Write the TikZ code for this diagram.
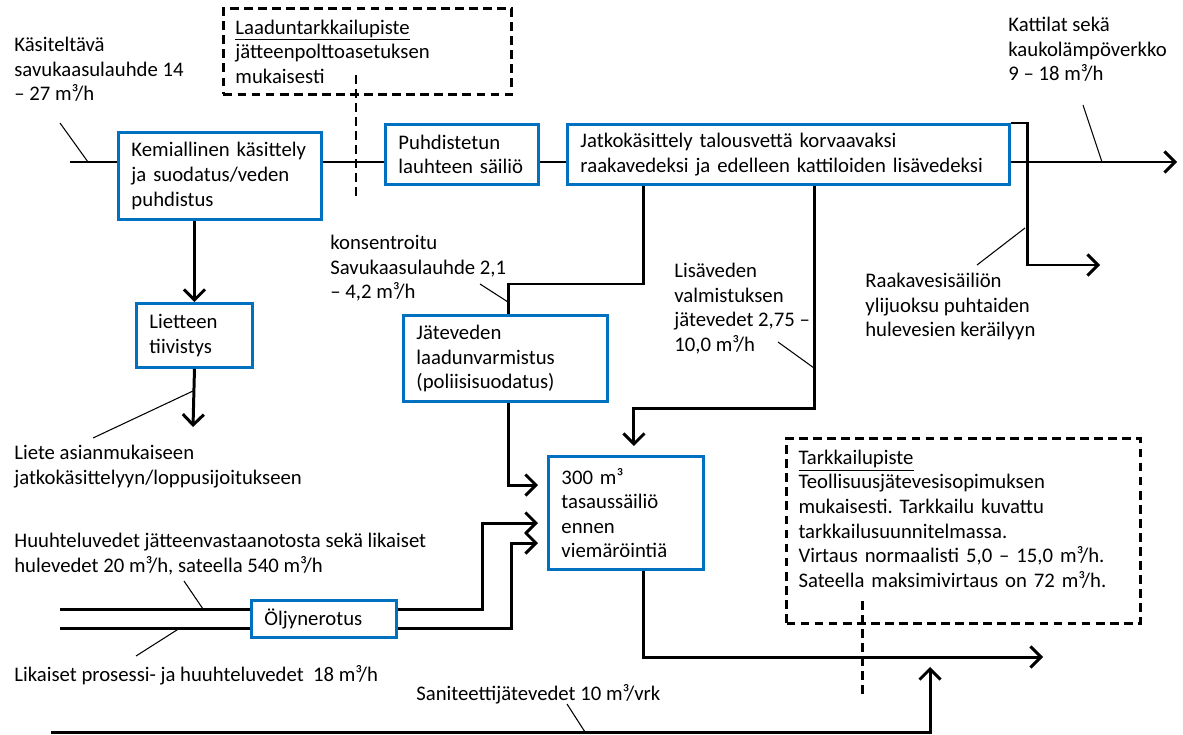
\documentclass[tikz,border=0pt]{standalone}
\usepackage{fontspec}
\setmainfont{Carlito}
\usetikzlibrary{calc,arrows.meta}
\definecolor{boxline}{RGB}{0,112,192}
\definecolor{pipe}{RGB}{0,0,0}
\frenchspacing
\tikzset{
  wbox/.style={draw=boxline,line width=1.7pt,anchor=north west,align=left,inner xsep=0.26cm,inner ysep=0pt},
  wpoint/.style={draw=pipe,line width=1.7pt,dash pattern=on 5pt off 3pt,anchor=north west,align=left,inner xsep=0.24cm,inner ysep=0pt},
  wflow/.style={pipe,line width=1.7pt},
  warrow/.style={wflow,-{Straight Barb[length=6pt,width=12pt]}},
  wlead/.style={pipe,line width=0.6pt},
  wmark/.style={pipe,line width=1.7pt,dash pattern=on 5pt off 3pt},
  wlabel/.style={anchor=north west,align=left,inner sep=0pt},
}
\newcommand{\cub}{³}

\begin{document}
\begin{tikzpicture}[x=0.02cm,y=-0.02cm,font=\fontsize{11.8}{14}\selectfont]
  \useasboundingbox (0,0) rectangle (1183,734);
  % process units
  \node[wbox,text width=3.54cm,minimum height=1.74cm] (kem) at (117,131) {Kemiallinen käsittely\\ja suodatus/veden\\puhdistus};
  \node[wbox,text width=1.8cm,minimum height=1.28cm] (liet) at (135,302) {Lietteen\\tiivistys};
  \node[wbox,text width=2.54cm,minimum height=1.2cm] (puhd) at (384,123) {Puhdistetun\\lauhteen~säiliö};
  \node[wbox,text width=8.32cm,minimum height=1.2cm] (jatko) at (566,123) {Jatkokäsittely talousvettä korvaavaksi\\raakavedeksi ja edelleen kattiloiden lisävedeksi};
  \node[wbox,text width=3.56cm,minimum height=1.72cm] (jate) at (402,314) {Jäteveden\\laadunvarmistus\\(poliisisuodatus)};
  \node[wbox,text width=2.58cm,minimum height=2.26cm] (tasaus) at (547,455) {300~m\cub\\tasaussäiliö\\ennen\\viemäröintiä};
  \node[wbox,text width=2.38cm,minimum height=0.74cm] (oljy) at (250,599) {Öljynerotus};
  % monitoring points
  \node[wpoint,text width=5.28cm,minimum height=1.72cm] (laatu) at (222,7) {\underline{Laaduntarkkailupiste}\\jätteenpolttoasetuksen\\mukaisesti};
  \node[wpoint,text width=6.6cm,minimum height=3.7cm] (tark) at (785,437) {\underline{Tarkkailupiste}\\Teollisuusjätevesisopimuksen\\mukaisesti. Tarkkailu kuvattu\\tarkkailusuunnitelmassa.\\Virtaus normaalisti 5,0 – 15,0 m\cub/h.\\Sateella maksimivirtaus on 72 m\cub/h.\\ \mbox{}};
  \draw[wmark] (356,75) -- (356,198);
  \draw[wmark] (862,601) -- (862,695);
  % flow labels
  \node[wlabel] (kasi) at (14,37) {Käsiteltävä\\savukaasulauhde 14\\– 27 m\cub/h};
  \node[wlabel] (kons) at (330,235) {konsentroitu\\Savukaasulauhde 2,1\\– 4,2 m\cub/h};
  \node[wlabel] (lisa) at (674,263) {Lisäveden\\valmistuksen\\jätevedet 2,75 –\\10,0 m\cub/h};
  \node[wlabel] (katt) at (1008,17) {Kattilat sekä\\kaukolämpöverkko\\9 – 18 m\cub/h};
  \node[wlabel] (raaka) at (865,273) {Raakavesisäiliön\\ylijuoksu puhtaiden\\hulevesien keräilyyn};
  \node[wlabel] (liete) at (14,445) {Liete asianmukaiseen\\jatkokäsittelyyn/loppusijoitukseen};
  \node[wlabel] (huuh) at (14,533) {Huuhteluvedet jätteenvastaanotosta sekä likaiset\\hulevedet 20 m\cub/h, sateella 540 m\cub/h};
  \node[wlabel] (likai) at (14,665) {Likaiset prosessi- ja huuhteluvedet~ 18 m\cub/h};
  \node[wlabel] (sani) at (416,684) {Saniteettijätevedet 10 m\cub/vrk};
  % free ends of the pipes
  \coordinate (in) at (70,162);
  \coordinate (out) at (1177,162);
  \coordinate (over) at (1100,265);
  \coordinate (sludge) at (193,427);
  \coordinate (konsb) at (643,284);
  \coordinate (konsa) at (508,284);
  \coordinate (lisab) at (814,408);
  \coordinate (dirtyA) at (60,609);
  \coordinate (dirtyB) at (60,628);
  \coordinate (sewer) at (1043,657);
  \coordinate (sanin) at (51,732);
  \coordinate (sanup) at (930,667);
  % pipes
  \draw[wflow] (in) -- (in -| kem.west);
  \draw[wflow] (in -| kem.east) -- (in -| puhd.west);
  \draw[wflow] (in -| puhd.east) -- (in -| jatko.west);
  \draw[warrow] (in -| jatko.east) -- (out);
  \draw[warrow] (jatko.north east) -- ++(17,0) |- (over);
  \draw[warrow] (kem.south -| liet.north) -- (liet.north);
  \draw[warrow] (liet.south) -- (sludge);
  \draw[wflow] (jatko.south -| konsb) -- (konsb) -- (konsa) -- (konsa |- jate.north);
  \draw[warrow] (konsa |- jate.south) |- ($(tasaus.north west)+(-9,30)$);
  \draw[warrow] (jatko.south -| lisab) -- (lisab) -| ($(tasaus.north)+(8,-9)$);
  \draw[wflow] (dirtyA) -- (dirtyA -| oljy.west);
  \draw[wflow] (dirtyB) -- (dirtyB -| oljy.west);
  \draw[warrow] (dirtyA -| oljy.east) -- ++(85,0) |- ($(tasaus.north west)+(-9,68)$);
  \draw[warrow] (dirtyB -| oljy.east) -- ++(114,0) |- ($(tasaus.north west)+(-9,88)$);
  \draw[warrow] ($(tasaus.south)+(18,0)$) |- (sewer);
  \draw[warrow] (sanin) -| (sanup);
  % leaders
  \draw[wlead] (60,123) -- (88,162);
  \draw[wlead] (1083,105) -- (1102,162);
  \draw[wlead] (977,265) -- (1025,228);
  \draw[wlead] (480,284) -- (508,302);
  \draw[wlead] (778,342) -- (814,368);
  \draw[wlead] (93,438) -- (193,391);
  \draw[wlead] (184,581) -- (203,609);
  \draw[wlead] (136,656) -- (180,628);
  \draw[wlead] (567,704) -- (585,732);
\end{tikzpicture}
\end{document}
